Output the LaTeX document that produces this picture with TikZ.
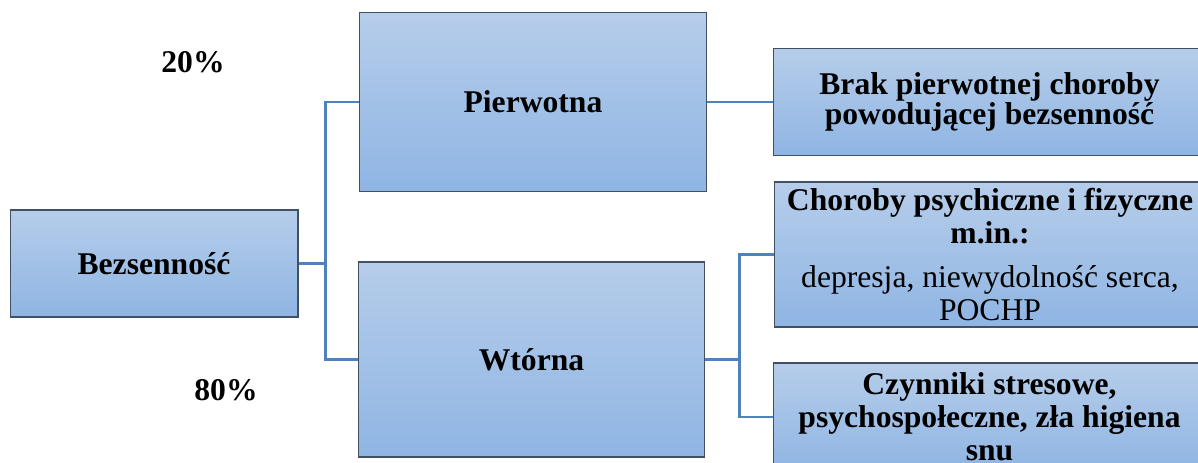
\documentclass[tikz,border=0pt]{standalone}
\usepackage{fontspec}
\setmainfont{Liberation Serif}
\usetikzlibrary{positioning}
\definecolor{boxtop}{RGB}{182,205,234}
\definecolor{boxbot}{RGB}{143,181,227}
\definecolor{boxedge}{RGB}{66,80,100}
\definecolor{linkblue}{RGB}{79,129,189}
\tikzstyle{block} = [rectangle, draw=boxedge, line width=0.6pt, top color=boxtop, bottom color=boxbot, text centered, align=center, inner sep=2pt, font=\fontsize{18}{18.8}\selectfont\bfseries]
\tikzstyle{pct} = [font=\fontsize{18}{18.8}\selectfont\bfseries]
\tikzstyle{link} = [line width=1.7pt, draw=linkblue]

\begin{document}
\begin{tikzpicture}[x=0.02cm, y=-0.02cm]

    \clip (0,0) rectangle (1198,463);

    \node (bez) [block, minimum width=5.76cm, minimum height=2.14cm] at (154,263.5) {Bezsenność};
    \node (pier) [block, minimum width=6.96cm, minimum height=3.58cm] at (533,102) {Pierwotna};
    \node (wt) [block, minimum width=6.94cm, minimum height=3.9cm] at (531.5,359.5) {Wtórna};

    \node (brak) [block, minimum width=8.66cm, minimum height=2.14cm, font=\fontsize{18}{15.6}\selectfont\bfseries] at (989.5,102) {Brak pierwotnej choroby\\ powodującej bezsenność};
    \node (chor) [block, minimum width=8.64cm, minimum height=2.9cm] at (990,254.5) {Choroby psychiczne i fizyczne\\ m.in.:\\[0.22cm] \mdseries depresja, niewydolność serca,\\ \mdseries POCHP};
    \node (czyn) [block, minimum width=8.66cm, minimum height=2.16cm] at (989.5,417) {Czynniki stresowe,\\ psychospołeczne, zła higiena\\ snu};

    \node (p20) [pct] at (193,62) {20\%};
    \node (p80) [pct] at (226,390) {80\%};

    \draw [link] (bez.east) -- ++(27,0) |- (pier.west);
    \draw [link] (bez.east) -- ++(27,0) |- (wt.west);
    \draw [link] (pier.east) -- (brak.west);
    \draw [link] (wt.east) -- ++(34,0) |- (chor.west);
    \draw [link] (wt.east) -- ++(34,0) |- (czyn.west);

\end{tikzpicture}
\end{document}
